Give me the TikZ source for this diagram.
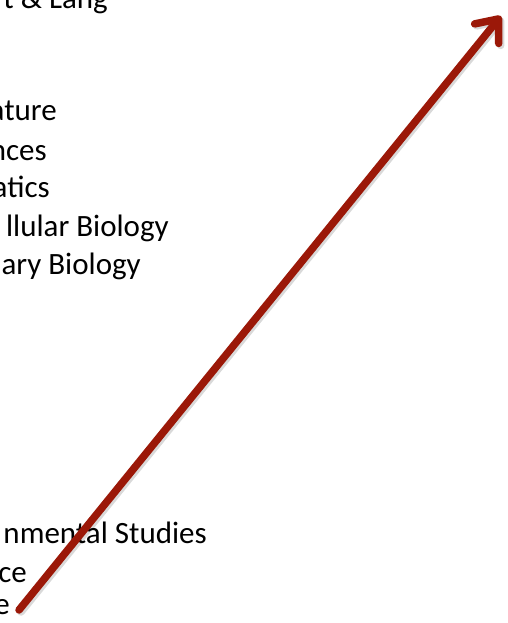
\documentclass[tikz,border=0pt]{standalone}
\usepackage{fontspec}
\setmainfont{Carlito}
\usetikzlibrary{arrows.meta}
\definecolor{arrowred}{RGB}{155,24,8}
\begin{document}
\begin{tikzpicture}[x=1pt,y=-1pt,
  lbl/.style={anchor=base east, inner sep=0pt, font=\fontsize{31}{37}\selectfont, text=black},
  bigarrow/.style={line width=7.5pt, line cap=round,
    -{Straight Barb[length=19pt, width=31pt, round]}}]
\useasboundingbox (0,0) rectangle (508,623);
\clip (0,0) rectangle (508,623);
\node[lbl] (l1) at (108,9) {t \& Lang};
\node[lbl] (l2) at (57,121) {ature};
\node[lbl] (l3) at (47,160) {nces};
\node[lbl] (l4) at (50,197) {atics};
\node[lbl] (l5) at (169,236) {llular Biology};
\node[lbl] (l6) at (141,274) {ary Biology};
\node[lbl] (l7) at (207,543) {nmental Studies};
\node[lbl] (l8) at (27,582) {ce};
\node[lbl] (l9) at (10,614) {e};
\coordinate (s) at (19,610);
\coordinate (e) at (501,16);
\coordinate (s2) at (21,612);
\coordinate (e2) at (503,18);
\draw[bigarrow, black, opacity=0.15] (s2) -- (e2);
\draw[bigarrow, arrowred] (s) -- (e);
\end{tikzpicture}
\end{document}
